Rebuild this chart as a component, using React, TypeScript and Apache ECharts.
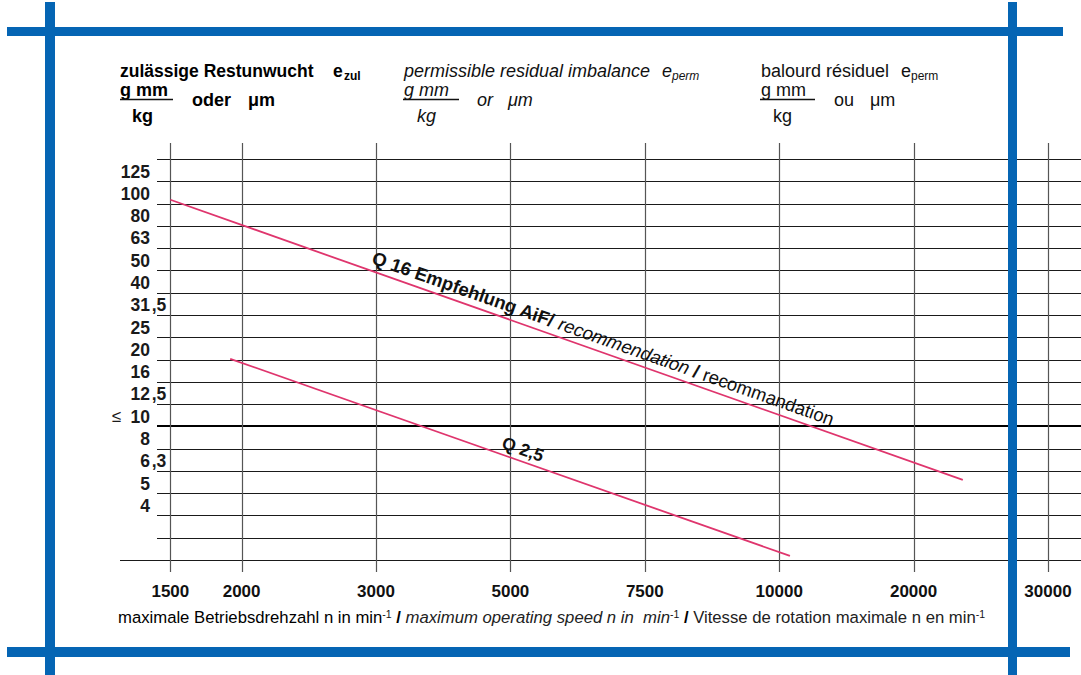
import React, { useEffect, useRef } from "react";
import * as echarts from "echarts";

// ---------------- data ----------------
const speedTicks = [1500, 2000, 3000, 5000, 7500, 10000, 20000, 30000];
const speedTickLabels = ["1500", "2000", "3000", "5000", "7500", "10000", "20000", "30000"];
// slot of each printed speed tick on the printed (non-uniform) speed scale
const speedTickSlots = [-1.53, -1.0, 0, 1, 2, 3, 4, 5];

const imbalanceTicks = [4, 5, 6.3, 8, 10, 12.5, 16, 20, 25, 31.5, 40, 50, 63, 80, 100, 125];
const imbalanceTickLabels = ["4", "5", "6,3", "8", "10", "12,5", "16", "20", "25", "31,5", "40", "50", "63", "80", "100", "125"];
const gridRowCount = 18;
const boldRowValue = 10;

const q16Speed = [1500, 23200];
const q16Imbalance = [104, 5.75];
const q25Speed = [1910, 10570];
const q25Imbalance = [20.1, 2.62];

// ---------------- scales ----------------
function speedToSlot(n: number): number {
  const last = speedTicks.length - 2;
  for (let i = 0; i <= last; i++) {
    if (n <= speedTicks[i + 1] || i === last) {
      const f = Math.log(n / speedTicks[i]) / Math.log(speedTicks[i + 1] / speedTicks[i]);
      return speedTickSlots[i] + f * (speedTickSlots[i + 1] - speedTickSlots[i]);
    }
  }
  return 0;
}
function imbalanceToRow(e: number): number {
  return 10 * Math.log10(e) - 4; // 10 g mm/kg -> row 6
}

const FONT = '"Liberation Sans", Arial, Helvetica, sans-serif';
const PINK = "#df356d";
const BLUE = "#0565b4";

const rows: number[] = [];
for (let r = 0; r <= gridRowCount; r++) rows.push(r);
const boldRow = Math.round(imbalanceToRow(boldRowValue));
const labelRows = imbalanceTicks.map((t) => Math.round(imbalanceToRow(t)) + 0.5);

function yLabel(v: number): string {
  const idx = labelRows.findIndex((r) => Math.abs(r - v) < 1e-6);
  if (idx < 0) return "";
  const lab = imbalanceTickLabels[idx];
  const parts = lab.split(",");
  const intPart = parts[0];
  const dec = parts.length > 1 ? "," + parts[1] : "";
  const prefix = imbalanceTicks[idx] === boldRowValue ? "{le|≤  }" : "";
  return `${prefix}{i|${intPart}}{d|${dec}}`;
}
function xLabel(v: number): string {
  const idx = speedTickSlots.findIndex((s) => Math.abs(s - v) < 1e-6);
  return idx < 0 ? "" : speedTickLabels[idx];
}

function lineLabel(speeds: number[], values: number[], t: number, offset: number, text: string, rich: any) {
  return (params: any, api: any) => {
    const p1 = api.coord([speedToSlot(speeds[0]), imbalanceToRow(values[0])]);
    const p2 = api.coord([speedToSlot(speeds[1]), imbalanceToRow(values[1])]);
    const dx = p2[0] - p1[0];
    const dy = p2[1] - p1[1];
    const len = Math.hypot(dx, dy);
    const nx = dy / len;
    const ny = -dx / len;
    return {
      type: "text",
      x: p1[0] + t * dx + nx * offset,
      y: p1[1] + t * dy + ny * offset,
      rotation: -Math.atan2(dy, dx),
      style: {
        text,
        rich,
        align: "left",
        verticalAlign: "bottom",
        fill: "#111",
        fontFamily: FONT,
        fontSize: 18.5,
      },
    };
  };
}

function txt(x: number, y: number, text: string, size: number, weight: string, style: string, fill = "#111") {
  return {
    type: "text",
    x,
    y,
    z: 50,
    style: { text, fontSize: size, fontWeight: weight, fontStyle: style, fontFamily: FONT, fill, verticalAlign: "middle" },
  };
}
function uline(x1: number, x2: number, y: number) {
  return { type: "line", z: 50, shape: { x1, y1: y, x2, y2: y }, style: { stroke: "#111", lineWidth: 1.3 } };
}

export default function App() {
  const ref = useRef<HTMLDivElement>(null);
  useEffect(() => {
    const chart = echarts.init(ref.current!, null, { renderer: "svg" });
    const xMin = (157 - 376) / 134.4;
    const xMax = xMin + 924 / 134.4;
    const sup = { fontSize: 10.5, verticalAlign: "top", fontFamily: FONT };
    const option: any = {
      animation: false,
      backgroundColor: "#fff",
      grid: { left: 157, right: 0, top: 159, bottom: 115, containLabel: false },
      xAxis: {
        type: "value",
        min: xMin,
        max: xMax,
        axisLine: { show: false },
        axisTick: { show: false },
        splitLine: { show: false },
        axisLabel: {
          customValues: speedTickSlots,
          formatter: xLabel,
          margin: 23,
          fontSize: 17,
          fontWeight: "bold",
          fontFamily: FONT,
          color: "#111",
          showMinLabel: true,
          showMaxLabel: true,
        },
      },
      yAxis: {
        type: "value",
        min: 0,
        max: gridRowCount,
        axisLine: { show: false },
        axisTick: { show: false },
        splitLine: { show: false },
        axisLabel: {
          customValues: labelRows,
          formatter: yLabel,
          margin: -11,
          align: "right",
          verticalAlign: "middle",
          rich: {
            i: { fontSize: 17.5, fontWeight: "bold", fontFamily: FONT, color: "#1a1a1a", padding: [3, 0, 0, 0] },
            d: { fontSize: 17.5, fontWeight: "bold", fontFamily: FONT, color: "#1a1a1a", width: 18, align: "left", padding: [3, 0, 0, 0] },
            le: { fontSize: 17, fontFamily: FONT, color: "#1a1a1a", padding: [3, 0, 0, 0] },
          },
        },
      },
      series: [
        {
          type: "custom",
          name: "hgrid",
          silent: true,
          z: 1,
          data: rows.map((r) => [0, r]),
          renderItem: (params: any, api: any) => {
            const r = api.value(1);
            const cs = params.coordSys;
            const bold = r === boldRow;
            const y = Math.round(api.coord([0, r])[1]) + (bold ? 0 : 0.5);
            return {
              type: "line",
              shape: { x1: r === 0 ? cs.x - 37 : cs.x, y1: y, x2: cs.x + cs.width, y2: y },
              style: { stroke: bold ? "#000" : "#1a1a1a", lineWidth: bold ? 2 : 1 },
            };
          },
        },
        {
          type: "custom",
          name: "vgrid",
          silent: true,
          z: 1,
          data: speedTickSlots.map((s) => [s, 0]),
          renderItem: (params: any, api: any) => {
            const cs = params.coordSys;
            const x = Math.round(api.coord([api.value(0), 0])[0]) + 0.5;
            return {
              type: "line",
              shape: { x1: x, y1: cs.y - 16, x2: x, y2: cs.y + cs.height + 12 },
              style: { stroke: "#555", lineWidth: 1.2 },
            };
          },
        },
        {
          type: "line",
          name: "Q 16",
          z: 3,
          symbol: "none",
          silent: true,
          lineStyle: { color: PINK, width: 1.8 },
          data: q16Speed.map((n, i) => [speedToSlot(n), imbalanceToRow(q16Imbalance[i])]),
        },
        {
          type: "line",
          name: "Q 2,5",
          z: 3,
          symbol: "none",
          silent: true,
          lineStyle: { color: PINK, width: 1.8 },
          data: q25Speed.map((n, i) => [speedToSlot(n), imbalanceToRow(q25Imbalance[i])]),
        },
        {
          type: "custom",
          name: "q16label",
          silent: true,
          z: 4,
          data: [[0, 0]],
          renderItem: lineLabel(
            q16Speed,
            q16Imbalance,
            0.25,
            4,
            "{b|Q 16 Empfehlung AiF/}{i| recommendation }{b|/}{r| recommandation}",
            {
              b: { fontWeight: "bold", fontSize: 18.5, fontFamily: FONT, fill: "#111" },
              i: { fontStyle: "italic", fontSize: 18.5, fontFamily: FONT, fill: "#111" },
              r: { fontSize: 18.5, fontFamily: FONT, fill: "#111" },
            }
          ),
        },
        {
          type: "custom",
          name: "q25label",
          silent: true,
          z: 4,
          data: [[0, 0]],
          renderItem: lineLabel(q25Speed, q25Imbalance, 0.48, 3, "{b|Q 2,5}", {
            b: { fontWeight: "bold", fontSize: 17.5, fontFamily: FONT, fill: "#111" },
          }),
        },
      ],
      graphic: [
        // blue frame
        { type: "rect", z: 100, shape: { x: 45, y: 2, width: 10, height: 673 }, style: { fill: BLUE } },
        { type: "rect", z: 100, shape: { x: 1008, y: 2, width: 9, height: 673 }, style: { fill: BLUE } },
        { type: "rect", z: 100, shape: { x: 7, y: 27, width: 1056, height: 9 }, style: { fill: BLUE } },
        { type: "rect", z: 100, shape: { x: 7, y: 647, width: 1063, height: 10 }, style: { fill: BLUE } },
        // German header
        txt(120, 71, "zulässige Restunwucht", 17.5, "bold", "normal", "#000"),
        txt(333, 71, "e", 17.5, "bold", "normal", "#000"),
        txt(344, 76, "zul", 12, "bold", "normal", "#000"),
        txt(120, 90, "g mm", 18, "bold", "normal", "#000"),
        uline(120, 173, 99.5),
        txt(192, 100, "oder", 18, "bold", "normal", "#000"),
        txt(248, 100, "μm", 18, "bold", "normal", "#000"),
        txt(132, 116, "kg", 18, "bold", "normal", "#000"),
        // English header
        txt(404, 71, "permissible residual imbalance", 18, "normal", "italic"),
        txt(662, 71, "e", 18, "normal", "italic"),
        txt(672, 76, "perm", 12, "normal", "italic"),
        txt(404, 90, "g mm", 18, "normal", "italic"),
        uline(403, 459, 99.5),
        txt(477, 100, "or", 18, "normal", "italic"),
        txt(508, 100, "μm", 18, "normal", "italic"),
        txt(417, 116, "kg", 18, "normal", "italic"),
        // French header
        txt(761, 71, "balourd résiduel", 18, "normal", "normal"),
        txt(901, 71, "e", 18, "normal", "normal"),
        txt(911, 76, "perm", 12, "normal", "normal"),
        txt(761, 90, "g mm", 18, "normal", "normal"),
        uline(760, 815, 99.5),
        txt(834, 100, "ou", 18, "normal", "normal"),
        txt(870, 100, "μm", 18, "normal", "normal"),
        txt(773, 116, "kg", 18, "normal", "normal"),
        // x-axis title
        {
          type: "text",
          x: 118,
          y: 617,
          z: 50,
          style: {
            text:
              "{b|maximale Betriebsdrehzahl n in min}{s|-1}{sl| / }{i|maximum operating speed n in  min}{s|-1}{sl| / }{r|Vitesse de rotation maximale n en min}{s|-1}",
            verticalAlign: "middle",
            fontFamily: FONT,
            fontSize: 16.7,
            fill: "#111",
            rich: {
              b: { fontSize: 16.7, fontFamily: FONT, fill: "#000" },
              i: { fontSize: 16.7, fontFamily: FONT, fontStyle: "italic", fill: "#222" },
              r: { fontSize: 16.7, fontFamily: FONT, fill: "#222" },
              sl: { fontSize: 16.7, fontFamily: FONT, fontWeight: "bold", fill: "#000" },
              s: { ...sup, fill: "#111" },
            },
          },
        },
      ],
    };
    chart.setOption(option);
    return () => chart.dispose();
  }, []);
  return (
    <div
      ref={ref}
      style={{ position: "fixed", left: 0, top: 0, width: 1081, height: 675, background: "#fff" }}
    />
  );
}
